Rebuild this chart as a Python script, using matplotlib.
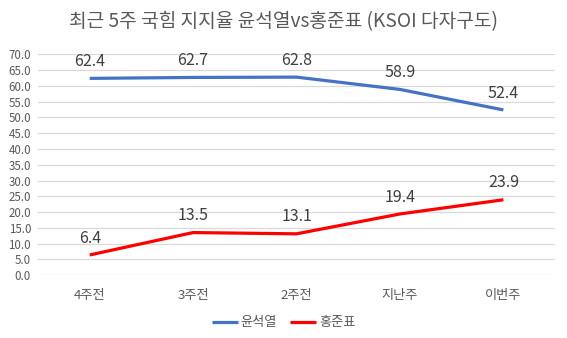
import matplotlib
matplotlib.use("Agg")
import matplotlib.pyplot as plt
from matplotlib.ticker import MultipleLocator, FormatStrFormatter

plt.rcParams['font.family'] = ['Noto Sans CJK KR', 'DejaVu Sans']

title = "최근 5주 국힘 지지율 윤석열vs홍준표 (KSOI 다자구도)"
categories = ["4주전", "3주전", "2주전", "지난주", "이번주"]
yoon_name = "윤석열"
yoon = [62.4, 62.7, 62.8, 58.9, 52.4]
hong_name = "홍준표"
hong = [6.4, 13.5, 13.1, 19.4, 23.9]

fig = plt.figure(figsize=(5.67, 3.38), dpi=100)
ax = fig.add_axes([0.067, 0.186, 0.912, 0.653])

x = list(range(len(categories)))
ax.plot(x, yoon, color="#4472C4", lw=2.3, label=yoon_name, solid_capstyle="butt")
ax.plot(x, hong, color="#FF0000", lw=2.3, label=hong_name, solid_capstyle="butt")

for xi, v in zip(x, yoon):
    ax.annotate(f"{v:.1f}", (xi, v), xytext=(0, 6), textcoords="offset points",
                ha="center", va="bottom", fontsize=11.5, color="#404040")
for xi, v in zip(x, hong):
    ax.annotate(f"{v:.1f}", (xi, v), xytext=(0, 6), textcoords="offset points",
                ha="center", va="bottom", fontsize=11.5, color="#404040")

ax.set_xlim(-0.5, len(categories) - 0.5)
ax.set_ylim(0, 70)
ax.yaxis.set_major_locator(MultipleLocator(5))
ax.yaxis.set_major_formatter(FormatStrFormatter("%.1f"))
ax.set_xticks(x)
ax.set_xticklabels(categories)
ax.grid(axis="y", color="#D9D9D9", lw=0.9)
ax.set_axisbelow(True)
for s in ax.spines.values():
    s.set_visible(False)
ax.tick_params(axis="both", length=0, colors="#595959")
ax.tick_params(axis="y", labelsize=8.3, pad=5)
ax.tick_params(axis="x", labelsize=9.5, pad=10)

fig.text(0.5, 0.935, title, ha="center", va="center", fontsize=13.8, color="#595959")

leg = fig.legend(loc="center", bbox_to_anchor=(0.5, 0.045), ncol=2, frameon=False,
                 fontsize=9.5, handlelength=2.0, handletextpad=0.2, columnspacing=1.0)
for t in leg.get_texts():
    t.set_color("#595959")

fig.savefig("out.png", dpi=100)
